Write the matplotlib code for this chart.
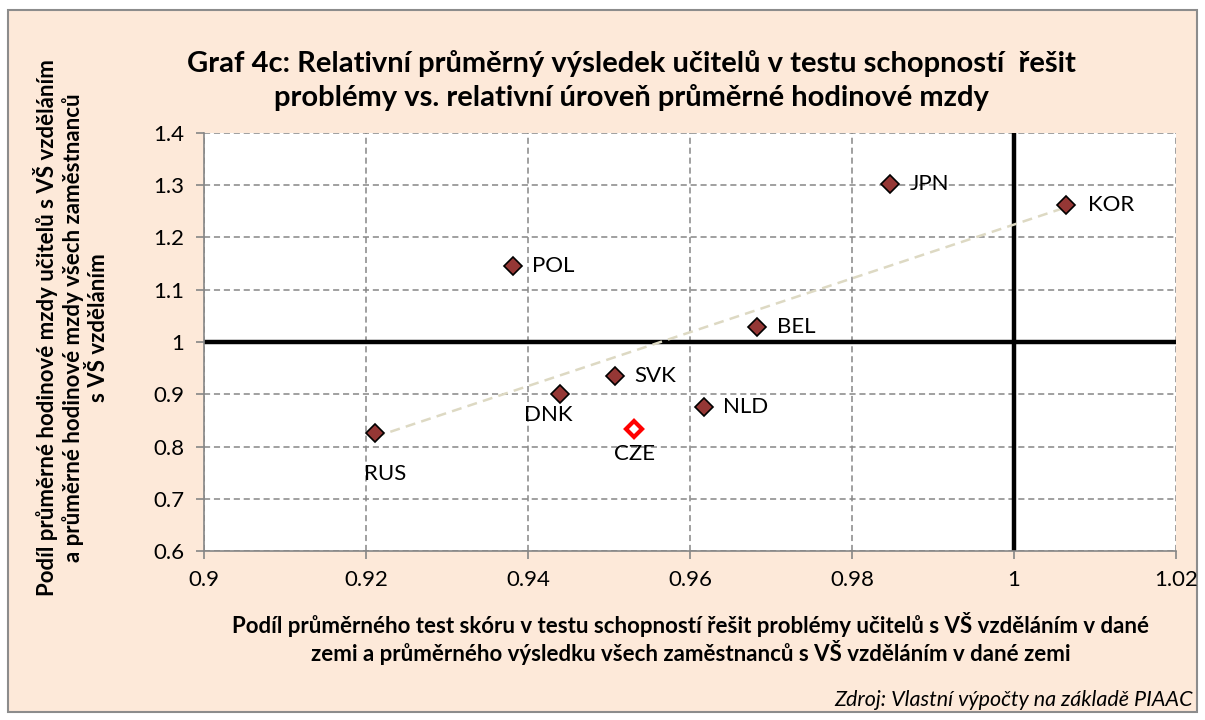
import numpy as np
import matplotlib.pyplot as plt
from matplotlib.patches import Rectangle

countries = ["RUS", "POL", "DNK", "SVK", "CZE", "NLD", "BEL", "JPN", "KOR"]
test_ratio = [0.9211, 0.9381, 0.9440, 0.9507, 0.9531, 0.9617, 0.9683, 0.9847, 1.0064]
wage_ratio = [0.825, 1.145, 0.900, 0.935, 0.833, 0.876, 1.028, 1.303, 1.262]

# label offsets in points (dx, dy, ha)
label_pos = {
    "RUS": (7, -29, "center"),
    "POL": (14, 0, "left"),
    "DNK": (-9, -15, "center"),
    "SVK": (14, 0, "left"),
    "CZE": (0, -18, "center"),
    "NLD": (14, 0, "left"),
    "BEL": (14, 0, "left"),
    "JPN": (14, 0, "left"),
    "KOR": (16, 0, "left"),
}

plt.rcParams['font.family'] = ['Lato', 'DejaVu Sans']

bg = "#FDE9D9"
fig = plt.figure(figsize=(12.05, 7.2), dpi=100)
fig.patch.set_facecolor("white")
fig.patches.append(Rectangle((8 / 1205, 8 / 720), 1189 / 1205, 702 / 720,
                             transform=fig.transFigure, facecolor=bg,
                             edgecolor="#8c8c8c", linewidth=1.5, zorder=-5))

ax = fig.add_axes([0.1693, 0.2347, 0.8066, 0.5806])
ax.set_facecolor("white")
ax.set_xlim(0.9, 1.02)
ax.set_ylim(0.6, 1.4)
ax.set_xticks(np.arange(0.9, 1.0201, 0.02))
ax.set_yticks(np.arange(0.6, 1.401, 0.1))
ax.set_xticklabels(["0.9", "0.92", "0.94", "0.96", "0.98", "1", "1.02"])
ax.set_yticklabels(["0.6", "0.7", "0.8", "0.9", "1", "1.1", "1.2", "1.3", "1.4"])
ax.grid(True, linestyle=(0, (4, 2.5)), color="#868686", linewidth=1.1, zorder=1)
for s in ["top", "right"]:
    ax.spines[s].set_visible(False)
for s in ["left", "bottom"]:
    ax.spines[s].set_color("#868686")
    ax.spines[s].set_linewidth(1.2)
ax.tick_params(direction="out", length=6, width=1.2, color="#868686",
               labelsize=16, pad=8)

ax.axhline(1, color="black", linewidth=3.2, zorder=2)
ax.axvline(1, color="black", linewidth=3.2, zorder=2)

# linear trend
k, q = np.polyfit(test_ratio, wage_ratio, 1)
xt = np.array([min(test_ratio), max(test_ratio)])
ax.plot(xt, k * xt + q, linestyle=(0, (4, 2.5)), color="#DDD9C3",
        linewidth=1.8, zorder=3)

for c, xv, yv in zip(countries, test_ratio, wage_ratio):
    if c == "CZE":
        ax.plot(xv, yv, marker="D", markersize=8.5, markerfacecolor="white",
                markeredgecolor="#FF0000", markeredgewidth=3, zorder=4)
    else:
        ax.plot(xv, yv, marker="D", markersize=9.5, markerfacecolor="#953735",
                markeredgecolor="black", markeredgewidth=1.2, zorder=4)
    dx, dy, ha = label_pos[c]
    ax.annotate(c, (xv, yv), xytext=(dx, dy), textcoords="offset points",
                ha=ha, va="center", fontsize=16, zorder=5)

fig.text(0.524, 0.888, "Graf 4c: Relativní průměrný výsledek učitelů v testu schopností  řešit\n"
         "problémy vs. relativní úroveň průměrné hodinové mzdy",
         ha="center", va="center", fontsize=21, fontweight="bold", linespacing=1.35)

fig.text(0.059, 0.545, "Podíl průměrné hodinové mzdy učitelů s VŠ vzděláním\n"
         "a průměrné hodinové mzdy všech zaměstnanců\ns VŠ vzděláním",
         ha="center", va="center", rotation=90, fontsize=16, fontweight="bold",
         linespacing=1.25)

fig.text(0.573, 0.113, "Podíl průměrného test skóru v testu schopností řešit problémy učitelů s VŠ vzděláním v dané\n"
         "zemi a průměrného výsledku všech zaměstnanců s VŠ vzděláním v dané zemi",
         ha="center", va="center", fontsize=16, fontweight="bold", linespacing=1.15)

fig.text(0.99, 0.028, "Zdroj: Vlastní výpočty na základě PIAAC", ha="right",
         va="center", fontsize=15.5, style="italic")

fig.savefig("out.png", dpi=100, facecolor=fig.get_facecolor())
